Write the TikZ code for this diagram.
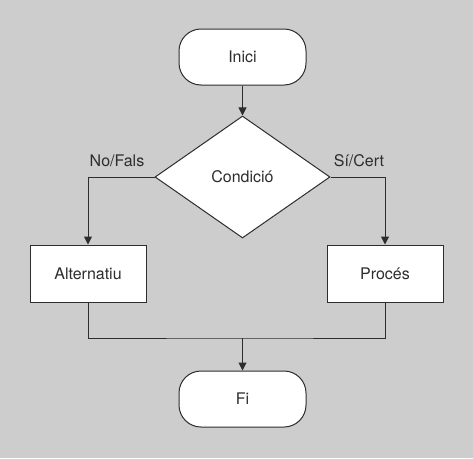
\documentclass[tikz,border=0pt]{standalone}
\usepackage{fontspec}
\setmainfont{TeX Gyre Heros}
\usetikzlibrary{shapes.geometric,arrows.meta}
\definecolor{bg}{RGB}{205,205,205}
\definecolor{ink}{RGB}{45,45,45}
\begin{document}
\begin{tikzpicture}[x=1pt,y=-1pt,
  every node/.style={font=\fontsize{16}{19}\selectfont, text=ink},
  term/.style={draw=ink, fill=white, line width=1pt, rounded corners=22pt, minimum width=127pt, minimum height=56pt, inner sep=0pt},
  procbox/.style={draw=ink, fill=white, line width=1pt, minimum width=116pt, minimum height=57pt, inner sep=0pt},
  decision/.style={draw=ink, fill=white, line width=1pt, diamond, minimum width=175pt, minimum height=122pt, inner sep=0pt},
  conn/.style={draw=ink, line width=1pt},
  arr/.style={conn, -{Triangle[width=8pt,length=8pt]}},
  lbl/.style={inner sep=0pt}
]
\fill[bg] (0,0) rectangle (473,458);
\useasboundingbox (0,0) rectangle (473,458);
\node[term] (inici) at (242.5,57) {Inici};
\node[decision] (cond) at (242.5,177) {Condició};
\node[procbox] (alt) at (88,273.5) {Alternatiu};
\node[procbox] (proc) at (385,273.5) {Procés};
\node[term] (fi) at (242.5,399) {Fi};
\coordinate (join) at (242.5,338);
\draw[arr] (inici) -- (cond);
\draw[arr] (cond.west) -| (alt.north);
\draw[arr] (cond.east) -| (proc.north);
\draw[conn] (alt.south) |- (join) -| (proc.south);
\draw[arr] (join) -- (fi);
\node[lbl] (no) at (117,161) {No/Fals};
\node[lbl] (si) at (359,161) {Sí/Cert};
\end{tikzpicture}
\end{document}
